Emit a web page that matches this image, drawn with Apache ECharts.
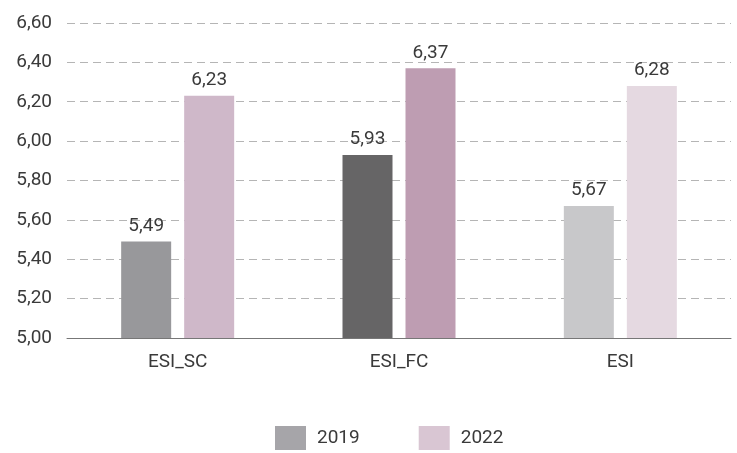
<!DOCTYPE html>
<html>
<head>
<meta charset="utf-8">
<script src="https://cdn.jsdelivr.net/npm/echarts@6/dist/echarts.min.js"></script>
<style>
  html, body { margin: 0; padding: 0; background: #fff; }
  #chart { width: 737px; height: 453px; }
</style>
</head>
<body>
<div id="chart"></div>
<script>
// Index scores by year
const categories = ['ESI_SC', 'ESI_FC', 'ESI'];
const values2019 = [5.49, 5.93, 5.67];
const values2022 = [6.23, 6.37, 6.28];
const yTicks = { min: 5.0, max: 6.6, interval: 0.2 };

// Each category has its own shade for both years
const colors2019 = ['#98989b', '#666566', '#c8c8ca'];
const colors2022 = ['#cfb8c9', '#be9db2', '#e5d9e1'];

const FONT = 'Roboto';
const WEIGHT = 400;
const TEXT = '#3a3a3a';
const fmt = v => v.toFixed(2).replace('.', ',');

const chart = echarts.init(document.getElementById('chart'));

function seriesOf(name, vals, shades, legendColor) {
  return {
    name: name,
    type: 'bar',
    barWidth: 50,
    barGap: '26%',
    itemStyle: { color: legendColor },
    data: vals.map((v, i) => ({ value: v, itemStyle: { color: shades[i] } })),
    label: {
      show: true,
      position: 'top',
      distance: 6,
      color: TEXT,
      fontFamily: FONT,
      fontWeight: WEIGHT,
      fontSize: 19,
      formatter: p => fmt(p.value)
    }
  };
}

chart.setOption({
  animation: false,
  grid: { left: 67, right: 6, top: 23, bottom: 115 },
  legend: {
    top: 426,
    left: 275,
    padding: 0,
    icon: 'rect',
    itemWidth: 31,
    itemHeight: 24,
    itemGap: 59,
    textStyle: { fontFamily: FONT, fontWeight: WEIGHT, fontSize: 19, color: TEXT, padding: [0, 0, 0, 6] },
    data: [
      { name: '2019', itemStyle: { color: '#a6a5a9' } },
      { name: '2022', itemStyle: { color: '#d9c6d3' } }
    ]
  },
  xAxis: {
    type: 'category',
    data: categories,
    axisTick: { show: false },
    axisLine: { lineStyle: { color: '#777', width: 1 } },
    axisLabel: { fontFamily: FONT, fontWeight: WEIGHT, fontSize: 19, color: TEXT, margin: 15 }
  },
  yAxis: {
    type: 'value',
    min: yTicks.min,
    max: yTicks.max,
    interval: yTicks.interval,
    axisLine: { show: false },
    axisTick: { show: false },
    axisLabel: { fontFamily: FONT, fontWeight: WEIGHT, fontSize: 19, color: TEXT, margin: 15, formatter: v => fmt(v) },
    splitLine: { lineStyle: { color: '#b5b5b5', type: [8, 5], width: 1 } }
  },
  series: [
    seriesOf('2019', values2019, colors2019, '#a6a5a9'),
    seriesOf('2022', values2022, colors2022, '#d9c6d3')
  ]
});
</script>
</body>
</html>
